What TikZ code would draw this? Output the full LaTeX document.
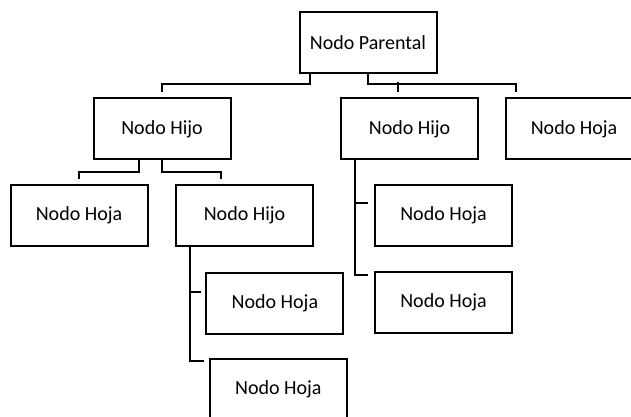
\documentclass[tikz,border=0pt]{standalone}
\usepackage{fontspec}
\setmainfont{Carlito}
\usetikzlibrary{calc}
\tikzset{
  box/.style={draw=black, line width=2pt, fill=white, minimum width=137pt,
              minimum height=61pt, inner sep=0pt, font=\fontsize{20}{24}\selectfont},
  link/.style={draw=black, line width=2pt, line join=miter}
}
\begin{document}
\begin{tikzpicture}[x=1pt, y=-1pt]
  \path[use as bounding box] (0,0) rectangle (631,416);
  \clip (0,0) rectangle (631,416);

  % boxes
  \node[box] (p)  at (368,42.4)   {Nodo Parental};
  \node[box] (h1) at (162,128.8)  {Nodo Hijo};
  \node[box] (h2) at (409.6,128.8){Nodo Hijo};
  \node[box] (f1) at (574,128.8)  {Nodo Hoja};
  \node[box] (f2) at (79,215.5)   {Nodo Hoja};
  \node[box] (h3) at (244.5,215.5){Nodo Hijo};
  \node[box] (f3) at (443.5,215.5){Nodo Hoja};
  \node[box] (f4) at (443.5,302.4){Nodo Hoja};
  \node[box] (f5) at (274.9,303.4){Nodo Hoja};
  \node[box] (f6) at (278.3,389.5){Nodo Hoja};

  % parent to first level
  \draw[link] ([xshift=-58pt]p.south) -- ++(0,10.4) -| ([yshift=5.6pt]h1.north);
  \draw[link] (p.south) -- ++(0,10.4) -| ([xshift=-58pt,yshift=5.6pt]f1.north);
  \draw[link] ([xshift=-12pt,yshift=5.6pt]h2.north) -- ++(0,-10);

  % left child to second level
  \draw[link] ([xshift=-23pt]h1.south) -- ++(0,11.4) -| ([yshift=5pt]f2.north);
  \draw[link] (h1.south) -- ++(0,11.4) -| ([xshift=-23.5pt,yshift=5pt]h3.north);

  % middle child, side branch
  \draw[link] ([xshift=-54.6pt]h2.south) |- ([xshift=-6.4pt,yshift=27.4pt]f4.west);
  \draw[link] ([xshift=-6.4pt,yshift=12.2pt]f3.west) -- ++(-13.6,0);

  % second-level child, side branch
  \draw[link] ([xshift=-54.5pt]h3.south) |- ([xshift=-5pt,yshift=28.8pt]f6.west);
  \draw[link] ([xshift=-4pt,yshift=11.7pt]f5.west) -- ++(-12.4,0);
\end{tikzpicture}
\end{document}
